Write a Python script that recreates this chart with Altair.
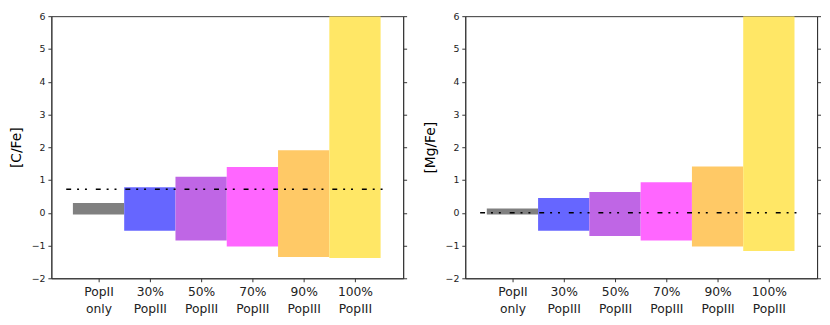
import json
import altair as alt
import pandas as pd

categories = [["PopII", "only"], ["30%", "PopIII"], ["50%", "PopIII"],
              ["70%", "PopIII"], ["90%", "PopIII"], ["100%", "PopIII"]]
colors = ["#808080", "#6666ff", "#bf66e5", "#ff66ff", "#ffc966", "#ffe766"]

cfe_low = [-0.05, -0.55, -0.85, -1.03, -1.35, -1.38]
cfe_high = [0.30, 0.78, 1.10, 1.40, 1.91, 6.0]
cfe_ref = 0.72

mgfe_low = [-0.05, -0.55, -0.71, -0.85, -1.03, -1.17]
mgfe_high = [0.13, 0.45, 0.63, 0.93, 1.41, 6.0]
mgfe_ref = 0.0

line_start = -0.63
line_end = 5.6
x_domain = [-0.92, 5.94]
y_domain = [-2, 6]
y_ticks = list(range(-2, 7))

label_expr = json.dumps(categories) + "[round(datum.value)]"


def panel(low, high, ref, title):
    df = pd.DataFrame({
        "i": list(range(len(categories))),
        "lo": low,
        "hi": high,
        "color": colors,
    })
    df["x0"] = df["i"] - 0.5
    df["x1"] = df["i"] + 0.5
    xs = alt.Scale(domain=x_domain, nice=False, zero=False)
    ys = alt.Scale(domain=y_domain, nice=False, zero=False)
    x_axis = alt.Axis(
        values=list(range(len(categories))), labelExpr=label_expr,
        title=None, grid=False, labelFontSize=12.5, labelLineHeight=17,
        labelPadding=4, tickSize=3.5, labelColor="#222",
        domainColor="#333", tickColor="#333", labelOverlap=False)
    y_axis = alt.Axis(
        values=y_ticks, title=title, grid=False, titleFontSize=14,
        titleFontWeight="normal", titlePadding=8, labelFontSize=9.5,
        tickSize=3.5, labelPadding=3, labelColor="#222",
        domainColor="#333", tickColor="#333", titleColor="#000",
        labelOverlap=False, labelFlush=False)
    bars = alt.Chart(df).mark_rect(clip=True).encode(
        x=alt.X("x0:Q", scale=xs, axis=x_axis),
        x2="x1:Q",
        y=alt.Y("lo:Q", scale=ys, axis=y_axis),
        y2="hi:Q",
        color=alt.Color("color:N", scale=None),
    )
    ldf = pd.DataFrame({"xa": [line_start], "xb": [line_end], "y": [ref]})
    line = alt.Chart(ldf).mark_rule(
        color="black", strokeWidth=1.5, strokeDash=[5, 6, 2, 6, 2, 9]
    ).encode(x=alt.X("xa:Q", scale=xs, axis=x_axis), x2="xb:Q",
             y=alt.Y("y:Q", scale=ys, axis=y_axis))
    right_axis = alt.Chart(df).mark_point(opacity=0).encode(
        x=alt.X("i:Q", scale=xs, axis=x_axis),
        y=alt.Y("lo:Q", scale=ys, axis=alt.Axis(
            orient="right", values=y_ticks, labels=False, title=None,
            grid=False, tickSize=3.5, domainColor="#333", tickColor="#333")),
    )
    main = alt.layer(bars, line)
    return alt.layer(main, right_axis).resolve_scale(y="independent").properties(
        width=357, height=266)


chart = alt.hconcat(
    panel(cfe_low, cfe_high, cfe_ref, "[C/Fe]"),
    panel(mgfe_low, mgfe_high, mgfe_ref, "[Mg/Fe]"),
    spacing=14,
).properties(padding=0).configure_view(stroke="#333", strokeWidth=1).configure_axis(
    labelFont="DejaVu Sans", titleFont="DejaVu Sans"
)

chart.save("out.html", embed_options={"renderer": "svg", "actions": False})
